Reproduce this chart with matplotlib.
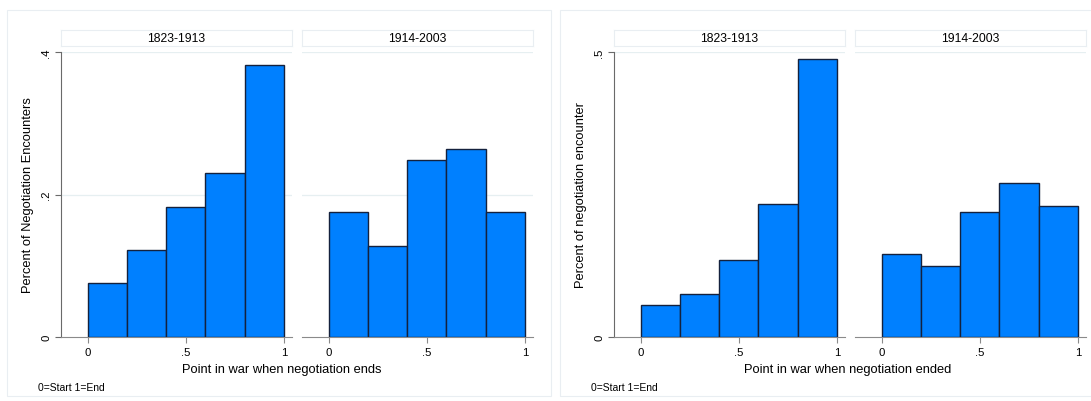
import numpy as np
import matplotlib
matplotlib.use('Agg')
import matplotlib.pyplot as plt
from matplotlib.patches import Rectangle

plt.rcParams['font.family'] = ['Liberation Sans', 'DejaVu Sans']

# Data: share of negotiation encounters per bin of the war
bin_starts = [0.0, 0.2, 0.4, 0.6, 0.8]
periods = ['1823-1913', '1914-2003']
ends_1823 = [0.076, 0.122, 0.183, 0.230, 0.382]
ends_1914 = [0.176, 0.128, 0.248, 0.264, 0.176]
ended_1823 = [0.057, 0.076, 0.135, 0.233, 0.488]
ended_1914 = [0.145, 0.124, 0.219, 0.271, 0.229]
x_ticks = [0, 0.5, 1]
x_ticklabels = ['0', '.5', '1']

W, H = 1091, 402
fig = plt.figure(figsize=(W / 100, H / 100), dpi=100)

BAR = '#0080ff'
EDGE = '#14213d'
GRID = '#e6eff1'
FRAME = '#e9eef2'
PW = 231  # panel width in px


def px_axes(x0, y0, x1, y1):
    # pixel box (top-left origin) -> figure axes
    return fig.add_axes([x0 / W, 1 - y1 / H, (x1 - x0) / W, (y1 - y0) / H])


def draw_graph(x_off, data, ymax, yticks, yticklabels, ylabel, xlabel, xlabel_x):
    fig.patches.append(Rectangle(((x_off - 54) / W, 1 - 397 / H), 544 / W, 386 / H,
                                 transform=fig.transFigure, fill=False,
                                 edgecolor=FRAME, linewidth=0.8))
    lefts = [x_off, x_off + 241]
    for i, (vals, period) in enumerate(zip(data, periods)):
        ax = px_axes(lefts[i], 53, lefts[i] + PW, 338)
        ax.bar(bin_starts, vals, width=0.2, align='edge', color=BAR,
               edgecolor=EDGE, linewidth=1.0, zorder=3)
        ax.set_xlim(-0.135, 1.04)
        ax.set_ylim(0, ymax)
        ax.set_yticks(yticks)
        for t in yticks[1:]:
            ax.axhline(t, color=GRID, linewidth=0.9, zorder=1)
        for s in ['top', 'right']:
            ax.spines[s].set_visible(False)
        ax.spines['bottom'].set_color('#8a8a8a')
        ax.set_xticks(x_ticks)
        ax.set_xticklabels(x_ticklabels, fontsize=8.2)
        ax.tick_params(axis='x', length=4, color='#8a8a8a', pad=3)
        if i == 0:
            ax.spines['left'].set_color('#6a6a6a')
            ax.set_yticklabels(yticklabels, fontsize=8.2, rotation=90, va='center')
            ax.tick_params(axis='y', length=4, color='#6a6a6a', pad=3)
            ax.set_ylabel(ylabel, fontsize=9.3)
            ax.yaxis.set_label_coords(-27 / PW, 0.5)
        else:
            ax.spines['left'].set_visible(False)
            ax.tick_params(axis='y', length=0, labelleft=False)
        # strip header
        sx = fig.add_axes([lefts[i] / W, 1 - 47 / H, PW / W, 16 / H])
        sx.set_xticks([])
        sx.set_yticks([])
        for s in sx.spines.values():
            s.set_color(FRAME)
        sx.text(0.5, 0.5, period, ha='center', va='center', fontsize=8.7,
                transform=sx.transAxes)
    fig.text(xlabel_x / W, 1 - 370 / H, xlabel, ha='center', va='center',
             fontsize=9.3)
    fig.text((x_off - 23) / W, 1 - 388 / H, '0=Start 1=End', ha='left',
             va='center', fontsize=7.5)


draw_graph(61, [ends_1823, ends_1914], 0.4, [0, 0.2, 0.4], ['0', '.2', '.4'],
           'Percent of Negotiation Encounters', 'Point in war when negotiation ends', 282)
draw_graph(614, [ended_1823, ended_1914], 0.5, [0, 0.5], ['0', '.5'],
           'Percent of negotiation encounter', 'Point in war when negotiation ended', 848)

fig.savefig('out.png', dpi=100)
